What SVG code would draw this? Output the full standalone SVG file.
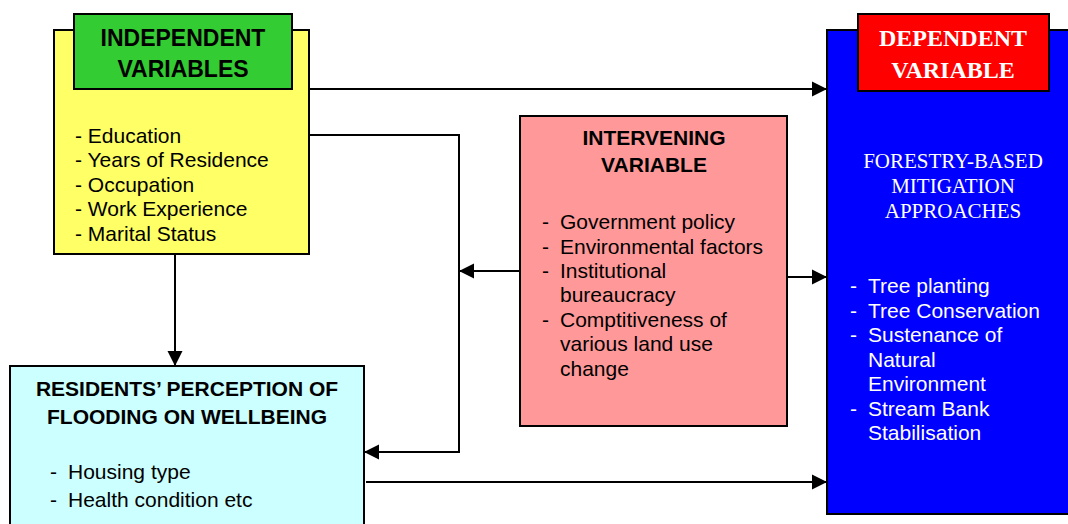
<svg xmlns="http://www.w3.org/2000/svg" width="1068" height="524" viewBox="0 0 1068 524">
<style>
.box{stroke:#000;stroke-width:2}
.t{font-family:"Liberation Sans",Arial,sans-serif;font-size:21px;fill:#000}
.b{font-weight:bold}
.s{font-family:"Liberation Serif","Times New Roman",serif;font-size:21px;fill:#fff}
.w{fill:#fff}
.c{text-anchor:middle}
.ln{stroke:#000;stroke-width:2;fill:none}
</style>
<defs>
<marker id="ah" markerUnits="userSpaceOnUse" markerWidth="18" markerHeight="18" viewBox="0 0 18 18" refX="16" refY="9" orient="auto">
<path d="M1,1.5 L16,9 L1,16.5 Z" fill="#000"/>
</marker>
</defs>
<rect width="1068" height="524" fill="#fff"/>
<g id="dependent">
<rect class="box" x="827" y="30" width="250" height="484" fill="#0000FF"/>
<rect class="box" x="858" y="14" width="191" height="77" fill="#FF0000"/>
<text class="s b c" style="font-size:24px" x="953" y="46">DEPENDENT</text>
<text class="s b c" style="font-size:24px" x="953" y="78">VARIABLE</text>
<text class="s c" x="953" y="168">FORESTRY-BASED</text>
<text class="s c" x="953" y="193">MITIGATION</text>
<text class="s c" x="953" y="218">APPROACHES</text>
<g class="t w">
<text x="850" y="293" class="w">-</text><text x="868" y="293" class="w">Tree planting</text>
<text x="850" y="318" class="w">-</text><text x="868" y="318" class="w">Tree Conservation</text>
<text x="850" y="342" class="w">-</text><text x="868" y="342" class="w">Sustenance of</text>
<text x="868" y="367" class="w">Natural</text>
<text x="868" y="391" class="w">Environment</text>
<text x="850" y="416" class="w">-</text><text x="868" y="416" class="w">Stream Bank</text>
<text x="868" y="440" class="w">Stabilisation</text>
</g>
</g>
<g id="independent">
<rect class="box" x="54" y="30" width="255" height="224" fill="#FFFF66"/>
<rect class="box" x="74" y="14" width="218" height="75" fill="#33CC33"/>
<text class="t b c" style="font-size:23px" x="183" y="46">INDEPENDENT</text>
<text class="t b c" style="font-size:23px" x="183" y="77">VARIABLES</text>
<text class="t" x="75" y="143">- Education</text>
<text class="t" x="75" y="167">- Years of Residence</text>
<text class="t" x="75" y="192">- Occupation</text>
<text class="t" x="75" y="216">- Work Experience</text>
<text class="t" x="75" y="241">- Marital Status</text>
</g>
<g id="intervening">
<rect class="box" x="520" y="116" width="267" height="310" fill="#FF9999"/>
<text class="t b c" x="654" y="145">INTERVENING</text>
<text class="t b c" x="654" y="172">VARIABLE</text>
<text class="t" x="542" y="229">-</text><text class="t" x="560" y="229">Government policy</text>
<text class="t" x="542" y="254">-</text><text class="t" x="560" y="254">Environmental factors</text>
<text class="t" x="542" y="278">-</text><text class="t" x="560" y="278">Institutional</text>
<text class="t" x="560" y="302">bureaucracy</text>
<text class="t" x="542" y="327">-</text><text class="t" x="560" y="327">Comptitiveness of</text>
<text class="t" x="560" y="351">various land use</text>
<text class="t" x="560" y="376">change</text>
</g>
<g id="residents">
<rect class="box" x="10" y="366" width="354" height="170" fill="#CCFFFF"/>
<text class="t b c" x="187" y="396">RESIDENTS’ PERCEPTION OF</text>
<text class="t b c" x="187" y="424">FLOODING ON WELLBEING</text>
<text class="t" x="50" y="479">-</text><text class="t" x="68" y="479">Housing type</text>
<text class="t" x="50" y="507">-</text><text class="t" x="68" y="507">Health condition etc</text>
</g>
<g id="connectors">
<line class="ln" x1="309" y1="89" x2="827" y2="89" marker-end="url(#ah)"/>
<polyline class="ln" points="309,135 459,135 459,452 364,452" marker-end="url(#ah)"/>
<line class="ln" x1="520" y1="271" x2="459" y2="271" marker-end="url(#ah)"/>
<line class="ln" x1="787" y1="277" x2="827" y2="277" marker-end="url(#ah)"/>
<line class="ln" x1="175" y1="254" x2="175" y2="366" marker-end="url(#ah)"/>
<line class="ln" x1="366" y1="482" x2="827" y2="482" marker-end="url(#ah)"/>
</g>
</svg>
